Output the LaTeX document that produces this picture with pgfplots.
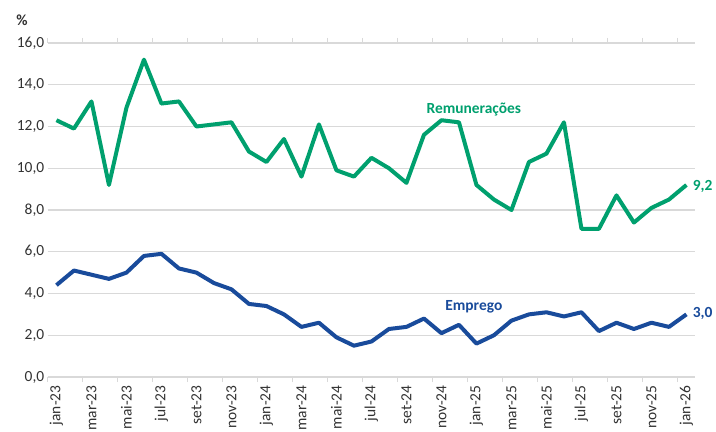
\documentclass[border=0pt]{standalone}
\usepackage{fontspec}
\setmainfont{Carlito}
\usepackage{pgfplots}
\usepackage{pgfplotstable}
\pgfplotsset{compat=1.18}
\definecolor{remgreen}{RGB}{0,160,110}
\definecolor{empblue}{RGB}{25,75,155}
\definecolor{gridgray}{RGB}{217,217,217}
\definecolor{txtgray}{RGB}{50,50,50}
\newcommand{\cfont}{\fontsize{15.5}{17}\selectfont}
\pgfplotstableread{
m rem emp
0 12.3 4.4
1 11.9 5.1
2 13.2 4.9
3 9.2 4.7
4 12.9 5.0
5 15.2 5.8
6 13.1 5.9
7 13.2 5.2
8 12.0 5.0
9 12.1 4.5
10 12.2 4.2
11 10.8 3.5
12 10.3 3.4
13 11.4 3.0
14 9.6 2.4
15 12.1 2.6
16 9.9 1.9
17 9.6 1.5
18 10.5 1.7
19 10.0 2.3
20 9.3 2.4
21 11.6 2.8
22 12.3 2.1
23 12.2 2.5
24 9.2 1.6
25 8.5 2.0
26 8.0 2.7
27 10.3 3.0
28 10.7 3.1
29 12.2 2.9
30 7.1 3.1
31 7.1 2.2
32 8.7 2.6
33 7.4 2.3
34 8.1 2.6
35 8.5 2.4
36 9.2 3.0
}\datatable
\begin{document}
\begin{tikzpicture}
\useasboundingbox (0,0) rectangle (716bp,432bp);
\begin{axis}[
  at={(47.7bp,55bp)}, anchor=south west,
  scale only axis, width=647.5bp, height=334bp,
  xmin=-0.5, xmax=36.5, ymin=0, ymax=16,
  clip mode=individual,
  axis line style={draw=none},
  ytick={0,2,...,16},
  ymajorgrids, grid style={gridgray, line width=1.2bp},
  xtick={0,2,...,36},
  xticklabels={jan-23,mar-23,mai-23,jul-23,set-23,nov-23,jan-24,mar-24,mai-24,jul-24,set-24,nov-24,jan-25,mar-25,mai-25,jul-25,set-25,nov-25,jan-26},
  minor xtick={-0.5,1.5,...,35.5},
  major tick length=0pt, minor tick length=5bp, tick align=outside,
  tick style={gridgray, line width=1.2bp},
  xticklabel shift=5bp,
  xticklabel style={rotate=90, anchor=east, font=\cfont, text=txtgray},
  yticklabel style={font=\cfont, text=txtgray},
  /pgf/number format/.cd, fixed, fixed zerofill, precision=1, use comma, assume math mode=true,
]
\addplot[remgreen, line width=4bp, line join=round, no markers] table[x=m, y=rem] {\datatable};
\addplot[empblue, line width=4bp, line join=round, no markers] table[x=m, y=emp] {\datatable};
\node[font=\cfont\bfseries, text=remgreen] at (axis cs:23.85,12.8) {Remunerações};
\node[font=\cfont\bfseries, text=empblue] at (axis cs:23.85,3.35) {Emprego};
\node[font=\cfont\bfseries, text=remgreen, anchor=west, inner sep=0pt] at (axis cs:36.35,9.15) {9,2};
\node[font=\cfont\bfseries, text=empblue, anchor=west, inner sep=0pt] at (axis cs:36.35,3.05) {3,0};
\end{axis}
\node[font=\cfont\bfseries, text=txtgray] at (22bp,412bp) {\%};
\end{tikzpicture}
\end{document}
